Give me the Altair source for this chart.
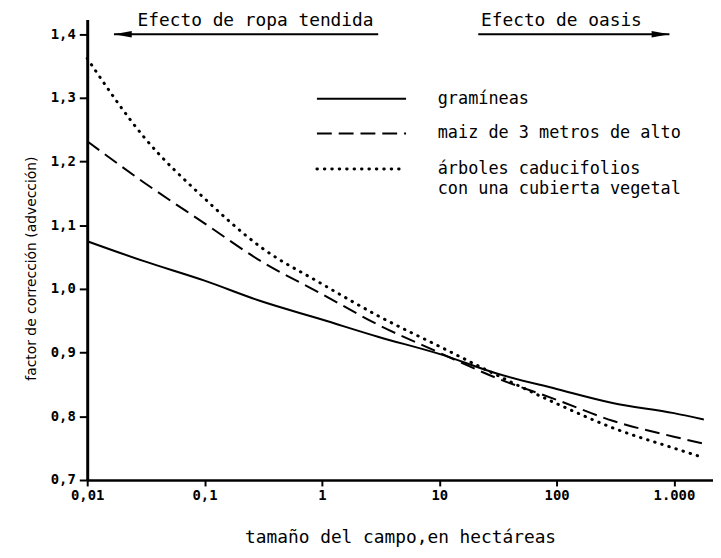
import altair as alt
import pandas as pd

# ---- data ----
x_ha = [0.01, 0.03, 0.1, 0.3, 1, 3, 10, 30, 100, 300, 1000, 1800]
gramineas = [1.075, 1.044, 1.013, 0.981, 0.952, 0.925, 0.898, 0.868, 0.843, 0.821, 0.805, 0.795]
maiz = [1.232, 1.168, 1.103, 1.044, 0.992, 0.944, 0.900, 0.861, 0.826, 0.793, 0.768, 0.757]
arboles = [1.362, 1.240, 1.142, 1.066, 1.008, 0.958, 0.910, 0.866, 0.820, 0.782, 0.750, 0.735]

series_names = ["gramíneas", "maiz de 3 metros de alto", "árboles caducifolios"]
legend_text = [["gramíneas"], ["maiz de 3 metros de alto"],
               ["árboles caducifolios", "con una cubierta vegetal"]]
x_ticks = [0.01, 0.1, 1, 10, 100, 1000]
y_ticks = [0.7, 0.8, 0.9, 1.0, 1.1, 1.2, 1.3, 1.4]
effects = ["Efecto de ropa tendida", "Efecto de oasis"]

rows = []
for name, vals in zip(series_names, [gramineas, maiz, arboles]):
    for xv, yv in zip(x_ha, vals):
        rows.append({"x": xv, "y": yv, "serie": name})
df = pd.DataFrame(rows)

FONT = "DejaVu Sans Mono"
xscale = alt.Scale(type="log", domain=[0.01, 2154], nice=False)
yscale = alt.Scale(domain=[0.7, 1.423], nice=False, zero=False)

styles = [
    dict(strokeWidth=2),
    dict(strokeWidth=2, strokeDash=[15, 7]),
    dict(strokeWidth=3, strokeDash=[0.5, 7], strokeCap="round"),
]

x_axis = alt.Axis(
    values=x_ticks,
    labelExpr="datum.value >= 1000 ? '1.000' : replace(toString(datum.value), '.', ',')",
    grid=False, domainColor="black", domainWidth=2.5, tickColor="black", tickWidth=2,
    tickSize=6, labelFont=FONT, labelFontSize=14, labelFontWeight="bold",
    labelColor="black", labelPadding=3, labelFlush=False,
    title="tamaño del campo,en hectáreas", titleFont=FONT, titleFontSize=18,
    titleFontWeight="normal", titleColor="black", titleY=58, titleBaseline="middle",
)
y_axis = alt.Axis(
    values=y_ticks,
    labelExpr="replace(format(datum.value, '.1f'), '.', ',')",
    grid=False, domainColor="black", domainWidth=3, tickColor="black", tickWidth=2,
    tickSize=8, labelFont=FONT, labelFontSize=14, labelFontWeight="bold",
    labelColor="black", labelPadding=4,
    title="factor de corrección (advección)", titleFont="DejaVu Sans", titleFontSize=14,
    titleFontWeight="normal", titleColor="black", titleAngle=-90, titleX=-56,
    titleY=251, titleBaseline="middle", titleAlign="center",
)

layers = []
for i, name in enumerate(series_names):
    layers.append(
        alt.Chart(df).transform_filter(alt.datum.serie == name)
        .mark_line(color="black", interpolate="monotone", **styles[i])
        .encode(
            x=alt.X("x:Q", scale=xscale, axis=x_axis),
            y=alt.Y("y:Q", scale=yscale, axis=y_axis),
        )
    )

# legend drawn inside the plot
leg_y = [80, 115, 151]
for i, name in enumerate(series_names):
    layers.append(
        alt.Chart(df).transform_filter(alt.datum.serie == name).transform_sample(1)
        .mark_rule(color="black", **styles[i])
        .encode(x=alt.value(232), x2=alt.value(322), y=alt.value(leg_y[i]))
    )
    for j, line in enumerate(legend_text[i]):
        layers.append(
            alt.Chart(df).transform_filter(alt.datum.serie == name).transform_sample(1)
            .mark_text(font=FONT, fontSize=17, color="black", align="left",
                       baseline="middle", text=line)
            .encode(x=alt.value(354), y=alt.value(leg_y[i] + j * 20))
        )

# top annotations: arrows and texts
ann = pd.DataFrame({"x": [0.0169, 21.5], "x2": [3.02, 916.0], "y": [1.4, 1.4],
                    "label": effects, "tx": [0.272, 110.0]})
layers.append(
    alt.Chart(ann).mark_rule(color="black", strokeWidth=2)
    .encode(x=alt.X("x:Q", scale=xscale, axis=x_axis), x2="x2:Q",
            y=alt.Y("y:Q", scale=yscale, axis=y_axis))
)
layers.append(
    alt.Chart(ann).mark_text(font=FONT, fontSize=18, color="black", baseline="alphabetic",
                             dy=-8)
    .encode(x=alt.X("tx:Q", scale=xscale, axis=x_axis),
            y=alt.Y("y:Q", scale=yscale, axis=y_axis), text="label:N")
)
layers.append(
    alt.Chart(ann.iloc[[0]]).mark_point(shape="M0,0L2,-0.36L2,0.36Z", filled=True, size=324,
                                        color="black", opacity=1, strokeWidth=0)
    .encode(x=alt.X("x:Q", scale=xscale, axis=x_axis), y=alt.Y("y:Q", scale=yscale, axis=y_axis))
)
layers.append(
    alt.Chart(ann.iloc[[1]]).mark_point(shape="M0,0L-2,-0.36L-2,0.36Z", filled=True, size=324,
                                        color="black", opacity=1, strokeWidth=0)
    .encode(x=alt.X("x2:Q", scale=xscale, axis=x_axis), y=alt.Y("y:Q", scale=yscale, axis=y_axis))
)

chart = alt.layer(*layers).properties(
    width=632, height=465,
    autosize=alt.AutoSizeParams(type="none"),
    padding={"left": 80, "top": 9, "right": 0, "bottom": 68},
    background="white",
).configure_view(stroke=None)

chart.save("out.html", embed_options={"renderer": "svg", "actions": False})
